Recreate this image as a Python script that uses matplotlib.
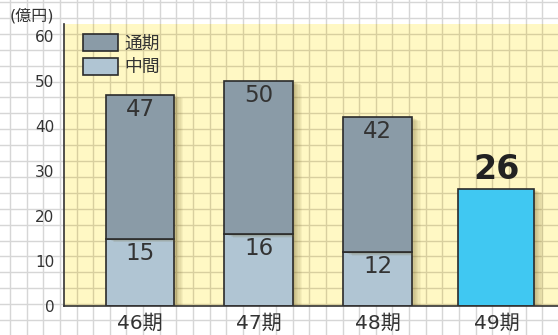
import matplotlib
matplotlib.use("Agg")
import matplotlib.pyplot as plt
import matplotlib.patheffects as pe
from matplotlib.lines import Line2D
from matplotlib.patches import Patch

plt.rcParams['font.family'] = ['DejaVu Sans', 'Noto Sans CJK JP']

periods = ["46期", "47期", "48期", "49期"]
chukan = [15, 16, 12]        # 中間
tsuki = [47, 50, 42]         # 通期 (total)
forecast = 26                # 49期
yticks = [0, 10, 20, 30, 40, 50, 60]

C_TOP = "#8a9ba7"
C_MID = "#b0c5d3"
C_NEW = "#40c8f2"
EDGE = "#2b2b2b"
TXT = "#333333"

W, H = 558, 335
fig = plt.figure(figsize=(W / 100, H / 100), dpi=100)
fig.patch.set_facecolor("white")


def grid_lines(color):
    lines = []
    x = 10.0
    while x < W:
        lines.append(Line2D([x / W, x / W], [0, 1], transform=fig.transFigure,
                            color=color, lw=1.0, zorder=0.5))
        x += 16.63
    y = 2.0
    while y < H:
        lines.append(Line2D([0, 1], [1 - y / H, 1 - y / H], transform=fig.transFigure,
                            color=color, lw=1.0, zorder=0.5))
        y += 15.9
    return lines


for ln in grid_lines("#d6d6d6"):
    ln.set_zorder(-1)
    fig.add_artist(ln)

ax = fig.add_axes([64 / W, 29 / H, (W - 64) / W, 282 / H])
ax.set_facecolor("#fff8c4")
for ln in grid_lines("#d8cf9f"):
    ax.add_line(ln)

shadow = [pe.SimplePatchShadow(offset=(k * 0.9, -k * 0.4), shadow_rgbFace="#6b5a20",
                               alpha=0.06) for k in range(1, 8)] + [pe.Normal()]

xs = [0, 1, 2]
top_part = [t - c for t, c in zip(tsuki, chukan)]
b1 = ax.bar(xs, chukan, width=0.58, color=C_MID, edgecolor=EDGE, lw=1.2, zorder=2)
b2 = ax.bar(xs, top_part, bottom=chukan, width=0.58, color=C_TOP, edgecolor=EDGE,
            lw=1.2, zorder=2)
b3 = ax.bar([3], [forecast], width=0.64, color=C_NEW, edgecolor=EDGE, lw=1.2, zorder=2)
for r in list(b1) + list(b2) + list(b3):
    r.set_path_effects(shadow)

for x, c, t in zip(xs, chukan, tsuki):
    ax.text(x, t - 3.3, str(t), ha="center", va="center", fontsize=16.5,
            color=TXT, zorder=3)
    ax.text(x, c - 3.3, str(c), ha="center", va="center", fontsize=16.5,
            color=TXT, zorder=3)
ax.text(3, forecast + 4.3, str(forecast), ha="center", va="center", fontsize=24,
        fontweight="bold", color="#222222", zorder=3)

ax.set_xlim(-0.64, 3.518)
ax.set_ylim(0, 62.67)
ax.set_yticks(yticks)
ax.set_xticks(range(len(periods)))
ax.set_xticklabels(periods)
ax.tick_params(axis="y", length=0, pad=7, labelsize=11, labelcolor=TXT)
ax.tick_params(axis="x", length=0, pad=6, labelsize=14.5, labelcolor=TXT)
for s in ["top", "right"]:
    ax.spines[s].set_visible(False)
for s in ["left", "bottom"]:
    ax.spines[s].set_color(TXT)
    ax.spines[s].set_linewidth(1.2)

handles = [Patch(facecolor=C_TOP, edgecolor=EDGE, lw=1.2, label="通期"),
           Patch(facecolor=C_MID, edgecolor=EDGE, lw=1.2, label="中間")]
leg = ax.legend(handles=handles, loc="upper left", bbox_to_anchor=(0.0385, 0.965),
                frameon=False, fontsize=12.8, handlelength=1.94, handleheight=1.09,
                handletextpad=0.4, labelspacing=0.3, borderaxespad=0, borderpad=0)
for t in leg.get_texts():
    t.set_color(TXT)

fig.text(10 / W, 1 - 16 / H, "(億円)", ha="left", va="center", fontsize=11.5,
         color=TXT)

fig.savefig("out.png", dpi=100)
